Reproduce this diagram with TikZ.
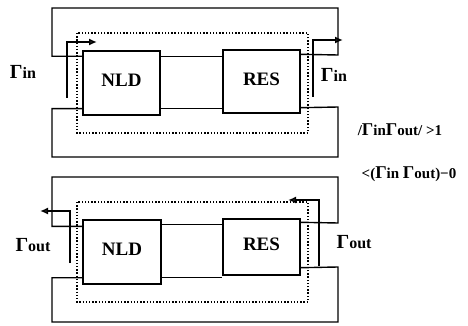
\documentclass[tikz,border=0pt]{standalone}
\usepackage{fontspec}
\setmainfont{Liberation Serif}
\usetikzlibrary{arrows.meta}
\newcommand\myGam{{\fontsize{20}{20}\selectfont Γ}}
\newcommand\myGams{{\fontsize{18}{18}\selectfont Γ}}
\begin{document}
\begin{tikzpicture}[x=1pt,y=-1pt,
 box/.style={draw, line width=1.4pt, inner sep=0pt, font=\bfseries\fontsize{19}{19}\selectfont},
 wire/.style={line width=1.4pt},
 dots/.style={line width=1.4pt, dash pattern=on 1.4pt off 1.8pt},
 sig/.style={line width=2.4pt, -{Latex[open,length=8pt,width=7pt]}},
 lab/.style={font=\bfseries\fontsize{16}{16}\selectfont, inner sep=0pt},
 labs/.style={font=\bfseries\fontsize{15}{15}\selectfont, inner sep=0pt}]
\useasboundingbox (0,0) rectangle (468,326);
% ---------- top diagram ----------
\node[box, minimum width=77pt, minimum height=64pt] (N1) at (121.5,83) {\raisebox{6pt}{NLD}};
\node[box, minimum width=77pt, minimum height=63pt] (R1) at (261.5,81.5) {\raisebox{4pt}{RES}};
\draw[wire] ([yshift=-6pt]N1.north west) -| (52,8) -| (338,55) -- ([yshift=-5pt]R1.north east);
\draw[wire] ([yshift=7pt]N1.south west) -| (52,157) -| (338,107) -- ([yshift=6pt]R1.south east);
\draw[wire] ([yshift=-6pt]N1.north east) -- ([yshift=-7pt]R1.north west);
\draw[wire] ([yshift=7pt]N1.south east) -- ([yshift=5pt]R1.south west);
\draw[dots] (77,33) rectangle (308,133);
\coordinate (a1s) at (67,98); \coordinate (a1e) at (97,42);
\coordinate (a2s) at (313,97); \coordinate (a2e) at (343,40);
\draw[sig] (a1s) |- (a1e);
\draw[sig] (a2s) |- (a2e);
\node[lab] (t1) at (23,72) {\myGam in};
\node[lab] (t2) at (334,75) {\myGam in};
\node[labs] (t3) at (400,130) {/\myGams in\myGams out/ >1};
\node[labs] (t4) at (409,174) {<(\myGams in \myGams out)−0};
% ---------- bottom diagram ----------
\node[box, minimum width=78pt, minimum height=64pt] (N2) at (122,252) {\raisebox{6pt}{NLD}};
\node[box, minimum width=77pt, minimum height=56pt] (R2) at (261.5,247) {\raisebox{5pt}{RES}};
\draw[wire] ([yshift=-7pt]N2.north west) -| (52,177) -| (338,223) -- ([yshift=-4pt]R2.north east);
\draw[wire] ([yshift=7pt]N2.south west) -| (52,322) -| (338,267) -- ([yshift=8pt]R2.south east);
\draw[wire] ([yshift=-5pt]N2.north east) -- ([yshift=-6pt]R2.north west);
\draw[wire] ([yshift=7pt]N2.south east) -- ([yshift=-2pt]R2.south west);
\draw[dots] (77,202) rectangle (308,302);
\coordinate (b1s) at (70,263); \coordinate (b1e) at (40,211);
\coordinate (b2s) at (319,266); \coordinate (b2e) at (288,200);
\draw[sig] (b1s) |- (b1e);
\draw[sig] (b2s) |- (b2e);
\node[lab] (t5) at (33,245) {\myGam out};
\node[lab] (t6) at (354,242) {\myGam out};
\end{tikzpicture}
\end{document}
